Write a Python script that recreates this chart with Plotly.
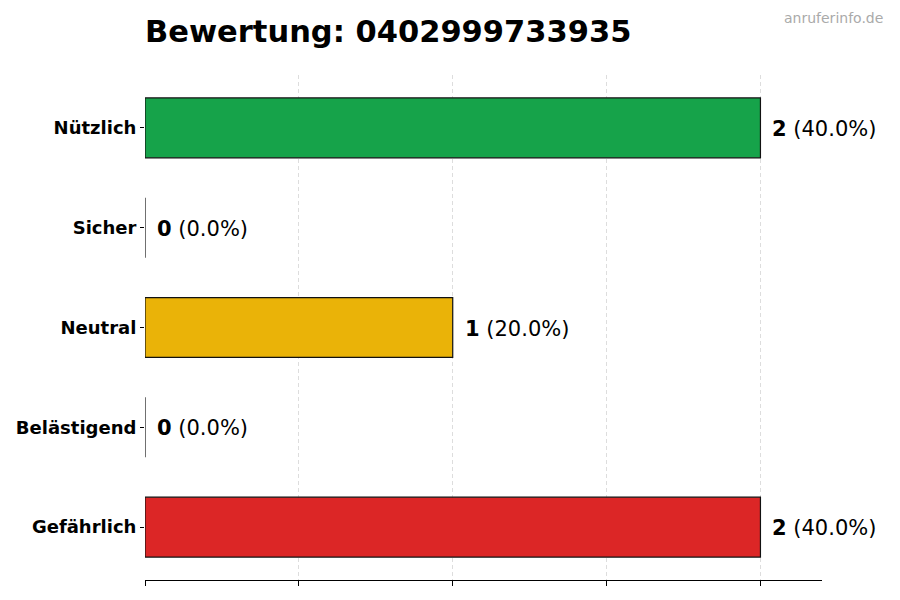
import plotly.graph_objects as go

categories = ["Gefährlich", "Belästigend", "Neutral", "Sicher", "Nützlich"]
values = [2, 0, 1, 0, 2]
colors = ["#dc2626", "#dc2626", "#eab308", "#16a34a", "#16a34a"]
title_text = "Bewertung: 0402999733935"
watermark = "anruferinfo.de"

total = sum(values)
FONT = "DejaVu Sans"

fig = go.Figure()
fig.add_trace(go.Bar(
    x=values, y=list(range(len(categories))), orientation="h",
    width=0.6,
    marker=dict(color=colors, line=dict(color="#111111", width=1.2)),
    hoverinfo="skip",
))

for i, (c, v) in enumerate(zip(categories, values)):
    pct = 100.0 * v / total if total else 0
    fig.add_annotation(
        x=v, y=i, xref="x", yref="y",
        text=f"<b>{v}</b> ({pct:.1f}%)",
        showarrow=False, xanchor="left", yanchor="middle",
        xshift=10, yshift=-1, font=dict(family=FONT, size=21, color="black"),
    )

fig.add_annotation(
    x=1, y=1, xref="paper", yref="paper", xanchor="right", yanchor="top",
    text=watermark, showarrow=False, xshift=63, yshift=67,
    font=dict(family=FONT, size=14, color="#aaaaaa"),
)

fig.update_layout(
    width=900, height=600,
    margin=dict(l=137, r=86, t=67, b=28, autoexpand=False),
    plot_bgcolor="white", paper_bgcolor="white",
    showlegend=False,
    title=dict(text=f"<b>{title_text}</b>", x=137/900, xanchor="left",
               y=1 - 23/600, yanchor="middle",
               font=dict(family=FONT, size=30.5, color="black")),
    font=dict(family=FONT),
)
fig.update_xaxes(
    range=[0, 2.2], tickvals=[0, 0.5, 1, 1.5, 2], showticklabels=False,
    ticks="outside", ticklen=5, tickcolor="black",
    showgrid=True, gridcolor="#dddddd", griddash="4px,3px", gridwidth=1,
    showline=True, linecolor="black", linewidth=1.2, zeroline=False,
    automargin=False,
)
fig.update_yaxes(
    range=[-0.53, 4.53], tickvals=list(range(len(categories))),
    ticktext=[f"<b>{c}</b>" for c in categories],
    ticks="outside", ticklen=4, tickcolor="black",
    tickfont=dict(family=FONT, size=18, color="black"),
    showgrid=False, showline=False, zeroline=False,
    automargin=False,
)

fig.write_html("out.html")
